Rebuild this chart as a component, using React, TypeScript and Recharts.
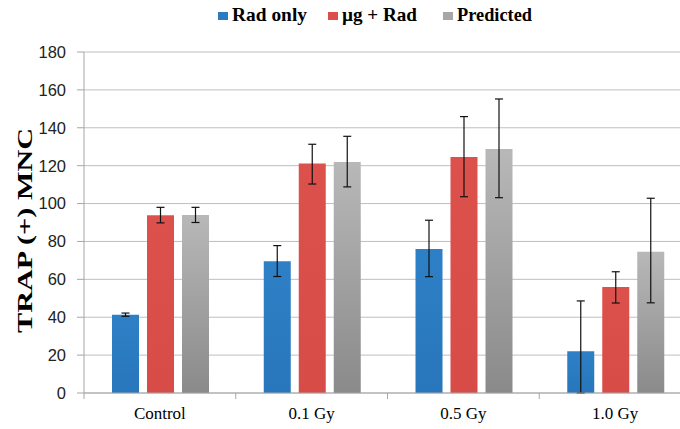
import { Bar, BarChart, CartesianGrid, ErrorBar, Label, XAxis, YAxis } from "recharts"

const categories = ["Control", "0.1 Gy", "0.5 Gy", "1.0 Gy"]
const radOnly = [41.3, 69.5, 76, 22]
const radOnlyErr = [[0.8, 0.9], [8, 8.3], [14.6, 15.2], [22, 26.6]]
const ugRad = [93.8, 121.1, 124.6, 56]
const ugRadErr = [[4, 4.2], [10.8, 10.2], [21, 21.3], [8.5, 8]]
const predicted = [94, 122, 128.8, 74.6]
const predictedErr = [[4, 4], [13.2, 13.5], [25.7, 26.4], [27, 28.2]]
const yTicks = [0, 20, 40, 60, 80, 100, 120, 140, 160, 180]

const series = [
  { key: "rad", name: "Rad only", color: "#2b7bc1" },
  { key: "ug", name: "\u00b5g + Rad", color: "#db4f4b" },
  { key: "pred", name: "Predicted", color: "#a6a6a6" },
]

const data = categories.map((c, i) => ({
  name: c,
  rad: radOnly[i],
  radErr: radOnlyErr[i],
  ug: ugRad[i],
  ugErr: ugRadErr[i],
  pred: predicted[i],
  predErr: predictedErr[i],
}))

const SERIF = "'Liberation Serif', 'Times New Roman', serif"
const BAND = (691 - 84) / categories.length

function CategoryTick(props: any) {
  const { x, y, payload } = props
  const left = x - BAND / 2
  return (
    <g>
      <line x1={left} y1={y - 8} x2={left} y2={y - 2} stroke="#a6a6a6" />
      <text x={x} y={y + 18} textAnchor="middle" fontFamily={SERIF} fontSize={17} fill="#000">
        {payload.value}
      </text>
    </g>
  )
}

function Legend() {
  // legend row sits above the plot, like the Excel original
  const starts = [218, 328, 443]
  return (
    <svg width={680} height={30} style={{ position: "absolute", left: 0, top: 0 }}>
      {series.map((s, i) => (
        <g key={s.key}>
          <rect x={starts[i]} y={12} width={10} height={8} fill={s.color} />
          <text
            x={starts[i] + 14}
            y={21}
            fontFamily={SERIF}
            fontWeight="bold"
            fontSize={19}
            textLength={75}
            lengthAdjust="spacingAndGlyphs"
            fill="#000"
          >
            {s.name}
          </text>
        </g>
      ))}
    </svg>
  )
}

export default function App() {
  return (
    <div
      style={{
        position: "fixed",
        left: 0,
        top: 0,
        width: 680,
        height: 429,
        overflow: "hidden",
        background: "#fff",
      }}
    >
      <Legend />
      <BarChart
        width={700}
        height={429}
        data={data}
        margin={{ top: 52, right: 9, bottom: 0, left: 0 }}
        barCategoryGap={28}
        barGap={8}
      >
        <defs>
          <linearGradient id="gRad" x1="0" y1="0" x2="0" y2="1">
            <stop offset="0%" stopColor="#2e80c6" />
            <stop offset="100%" stopColor="#2876bb" />
          </linearGradient>
          <linearGradient id="gUg" x1="0" y1="0" x2="0" y2="1">
            <stop offset="0%" stopColor="#dd514d" />
            <stop offset="100%" stopColor="#d84c48" />
          </linearGradient>
          <linearGradient id="gPred" x1="0" y1="0" x2="0" y2="1">
            <stop offset="0%" stopColor="#b8b8b8" />
            <stop offset="100%" stopColor="#8a8a8a" />
          </linearGradient>
        </defs>
        <CartesianGrid vertical={false} stroke="#bfbfbf" />
        <XAxis
          dataKey="name"
          height={36}
          stroke="#a6a6a6"
          tickLine={false}
          tick={<CategoryTick />}
          interval={0}
        />
        <YAxis
          domain={[0, 180]}
          ticks={yTicks}
          width={84}
          stroke="#a6a6a6"
          tickSize={7}
          tickMargin={11}
          tick={{ fill: "#222", fontSize: 16.5, fontFamily: "'Liberation Sans', Arial, sans-serif" }}
        >
          <Label
            content={({ viewBox }: any) => {
              const cy = viewBox.y + viewBox.height / 2 + 8
              return (
                <text
                  x={25}
                  y={cy}
                  transform={`rotate(-90 25 ${cy})`}
                  textAnchor="middle"
                  dominantBaseline="central"
                  fontFamily={SERIF}
                  fontWeight="bold"
                  fontSize={21}
                  textLength={205}
                  lengthAdjust="spacingAndGlyphs"
                  fill="#000"
                >
                  TRAP (+) MNC
                </text>
              )
            }}
          />
        </YAxis>
        <Bar dataKey="rad" name="Rad only" fill="url(#gRad)" isAnimationActive={false}>
          <ErrorBar dataKey="radErr" width={4} stroke="#111" strokeWidth={1.2} />
        </Bar>
        <Bar dataKey="ug" name={"\u00b5g + Rad"} fill="url(#gUg)" isAnimationActive={false}>
          <ErrorBar dataKey="ugErr" width={4} stroke="#111" strokeWidth={1.2} />
        </Bar>
        <Bar dataKey="pred" name="Predicted" fill="url(#gPred)" isAnimationActive={false}>
          <ErrorBar dataKey="predErr" width={4} stroke="#111" strokeWidth={1.2} />
        </Bar>
      </BarChart>
    </div>
  )
}
